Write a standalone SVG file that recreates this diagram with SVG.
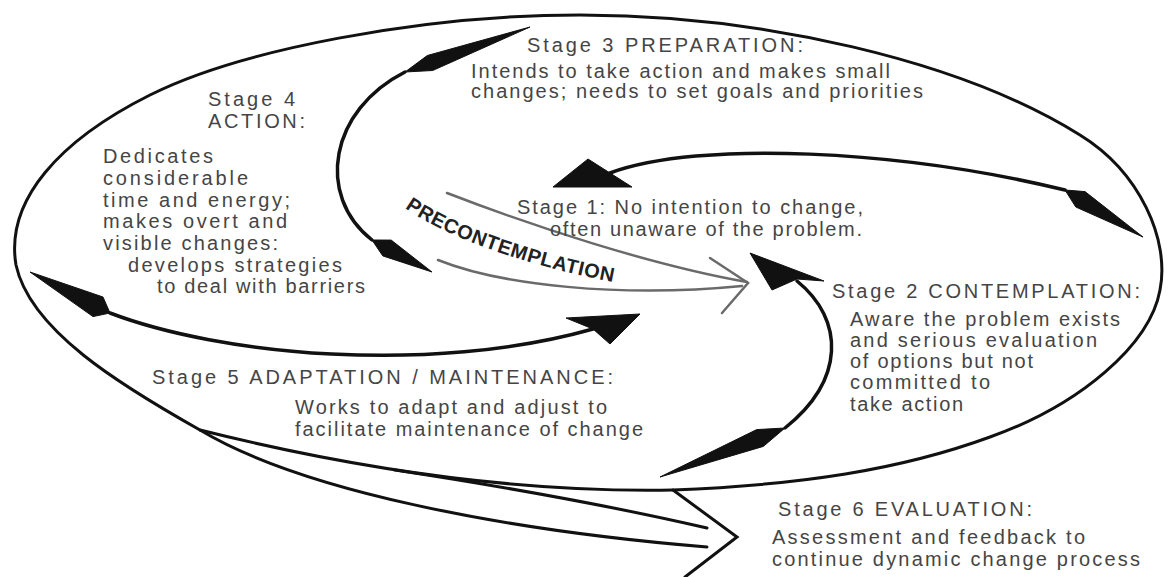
<svg xmlns="http://www.w3.org/2000/svg" width="1168" height="577" viewBox="0 0 1168 577">
<style>
.t{font-family:"Liberation Sans",Arial,sans-serif;font-size:20px;fill:#454545}
.ln{fill:none;stroke:#111;stroke-width:3;stroke-linecap:round}
.arc{fill:none;stroke:#111;stroke-width:3.5;stroke-linecap:round}
.hd{fill:#111;stroke:#111;stroke-width:1;stroke-linejoin:round}
.gl{fill:none;stroke:#6a6a6a;stroke-width:2.5;stroke-linecap:round}
.pc{font-family:"Liberation Sans",Arial,sans-serif;font-weight:bold;font-size:20px;fill:#222}
</style>
<defs>
<path id="pcpath" d="M 405 208 C 450 240, 540 270, 630 285"/>
</defs>
<rect width="1168" height="577" fill="#fff"/>
<g id="connectors">
<path class="ln" d="M 200 430 C 120 385, 30 330, 16 265 C 5 200, 60 140, 150 95 C 240 50, 420 15, 580 15 C 760 15, 960 60, 1080 135 C 1140 172, 1170 240, 1160 290 C 1150 345, 1080 405, 990 437 C 900 470, 800 485, 673 490 C 560 492, 400 480, 200 430"/>
<path class="ln" d="M 200 430 C 300 490, 500 530, 707 547"/>
<path class="ln" d="M 395 470 C 500 486, 620 508, 707 528"/>
<polyline class="ln" points="673,490 737,537 685,577" stroke-linejoin="miter"/>
<path class="arc" d="M 405 72 C 330 110, 315 195, 372 240"/>
<polygon class="hd" points="405,72 432.7,70.5 530,27 427.3,55.5"/>
<polygon class="hd" points="372,240 391.2,240.1 432,272 382.8,255.9"/>
<path class="arc" d="M 610 173 C 700 140, 900 150, 1065 190"/>
<polygon class="hd" points="553,187 588,159 610,173 632,187"/>
<polygon class="hd" points="1065,190 1085,191.6 1143,237 1075.8,207"/>
<path class="arc" d="M 797 281 C 845 320, 845 380, 785 428"/>
<polygon class="hd" points="750,253 824,281 797,279 772,290"/>
<polygon class="hd" points="785,428 756.7,429.6 660,477 763.3,446.4"/>
<path class="arc" d="M 110 313 C 220 355, 430 375, 593 329"/>
<polygon class="hd" points="110,313 103,297 30,272 93,316.6"/>
<polygon class="hd" points="640,314 610,344 593,329 566,318"/>
<path class="gl" d="M 447 193 C 530 225, 650 265, 747 282"/>
<path class="gl" d="M 438 260 C 500 285, 620 298, 742 286"/>
<polyline class="gl" points="710,258 748,283 722,313"/>
</g>
<g id="precontemplation">
<text class="pc"><textPath href="#pcpath" textLength="222" lengthAdjust="spacing">PRECONTEMPLATION</textPath></text>
</g>
<g id="stage1">
<text class="t" x="517" y="214" textLength="346" lengthAdjust="spacing">Stage 1:  No intention to change,</text>
<text class="t" x="550" y="236" textLength="312" lengthAdjust="spacing">often unaware of the problem.</text>
</g>
<g id="stage2">
<text class="t" x="832" y="298" textLength="308" lengthAdjust="spacing">Stage 2 CONTEMPLATION:</text>
<text class="t" x="850" y="326" textLength="270" lengthAdjust="spacing">Aware the problem exists</text>
<text class="t" x="850" y="347" textLength="247" lengthAdjust="spacing">and serious evaluation</text>
<text class="t" x="850" y="368" textLength="183" lengthAdjust="spacing">of options but not</text>
<text class="t" x="850" y="389" textLength="140" lengthAdjust="spacing">committed to</text>
<text class="t" x="850" y="411" textLength="113" lengthAdjust="spacing">take action</text>
</g>
<g id="stage3">
<text class="t" x="527" y="52" textLength="276" lengthAdjust="spacing">Stage 3 PREPARATION:</text>
<text class="t" x="471" y="78" textLength="419" lengthAdjust="spacing">Intends to take action and makes small</text>
<text class="t" x="471" y="98" textLength="452" lengthAdjust="spacing">changes; needs to set goals and priorities</text>
</g>
<g id="stage4">
<text class="t" x="208" y="106" textLength="87" lengthAdjust="spacing">Stage 4</text>
<text class="t" x="208" y="128" textLength="97" lengthAdjust="spacing">ACTION:</text>
<text class="t" x="103" y="163" textLength="110" lengthAdjust="spacing">Dedicates</text>
<text class="t" x="103" y="185" textLength="145" lengthAdjust="spacing">considerable</text>
<text class="t" x="103" y="207" textLength="187" lengthAdjust="spacing">time and energy;</text>
<text class="t" x="103" y="228" textLength="184" lengthAdjust="spacing">makes overt and</text>
<text class="t" x="103" y="250" textLength="175" lengthAdjust="spacing">visible changes:</text>
<text class="t" x="128" y="272" textLength="214" lengthAdjust="spacing">develops strategies</text>
<text class="t" x="157" y="293" textLength="208" lengthAdjust="spacing">to deal with barriers</text>
</g>
<g id="stage5">
<text class="t" x="152" y="384" textLength="461" lengthAdjust="spacing">Stage 5 ADAPTATION / MAINTENANCE:</text>
<text class="t" x="295" y="414" textLength="312" lengthAdjust="spacing">Works to adapt and adjust to</text>
<text class="t" x="295" y="436" textLength="348" lengthAdjust="spacing">facilitate maintenance of change</text>
</g>
<g id="stage6">
<text class="t" x="778" y="516" textLength="254" lengthAdjust="spacing">Stage 6 EVALUATION:</text>
<text class="t" x="772" y="544" textLength="313" lengthAdjust="spacing">Assessment and feedback to</text>
<text class="t" x="772" y="566" textLength="368" lengthAdjust="spacing">continue dynamic change process</text>
</g>
</svg>
